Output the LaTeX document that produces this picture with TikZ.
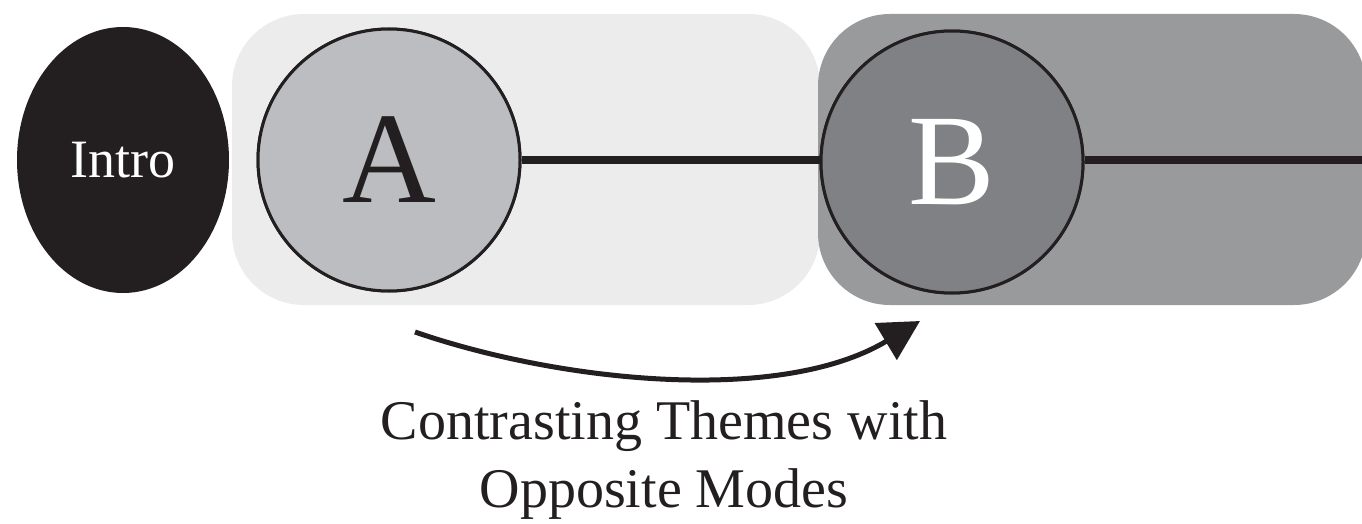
\documentclass[tikz,border=0pt]{standalone}
\usepackage{fontspec}
\setmainfont{Liberation Serif}
\usetikzlibrary{shapes.geometric,arrows.meta}
\definecolor{ink}{HTML}{231F20}
\definecolor{lightpanel}{HTML}{EBECEB}
\definecolor{darkpanel}{HTML}{999A9C}
\definecolor{lightdisc}{HTML}{BCBDC0}
\definecolor{darkdisc}{HTML}{808185}
\tikzset{
  panel/.style={rectangle, rounded corners=72pt, minimum height=291pt, inner sep=0pt},
  theme/.style={circle, draw=ink, line width=3pt, minimum size=262pt, inner sep=0pt,
    font=\fontsize{130}{130}\selectfont},
  link/.style={draw=ink, line width=8pt},
  sweep/.style={draw=ink, line width=5pt, -{Triangle[length=40pt,width=42pt]}},
  caption/.style={align=center, text=ink, font=\fontsize{56}{68}\selectfont}
}
\begin{document}
\begin{tikzpicture}[x=1pt,y=-1pt]
  \useasboundingbox (0,0) rectangle (1362,524);
  % background panels
  \node[panel, fill=lightpanel, minimum width=588pt] (pa) at (526,159.5) {};
  \node[panel, fill=darkpanel, minimum width=548pt] (pb) at (1092,159.5) {};
  % intro
  \node[ellipse, fill=ink, minimum width=212pt, minimum height=266pt, inner sep=0pt,
    text=white, font=\fontsize{54}{54}\selectfont] (intro) at (123,160) {Intro};
  % themes
  \node[theme, fill=lightdisc, text=ink] (a) at (389,160) {A};
  \node[theme, fill=darkdisc, text=white] (b) at (952,162) {B};
  \coordinate (tail) at (1362,160);
  \draw[link] (a.east) -- (a.east -| b.west);
  \draw[link] (b.east |- tail) -- (tail);
  \node[theme, fill=lightdisc, text=ink] at (a) {A};
  \node[theme, fill=darkdisc, text=white] at (b) {B};
  % transition arrow
  \coordinate (s) at (415,332);
  \coordinate (e) at (920,321);
  \draw[sweep] (s) .. controls (560,382) and (780,405) .. (e);
  \node[caption] (cap) at (664,460) {Contrasting Themes with\\Opposite Modes};
\end{tikzpicture}
\end{document}
